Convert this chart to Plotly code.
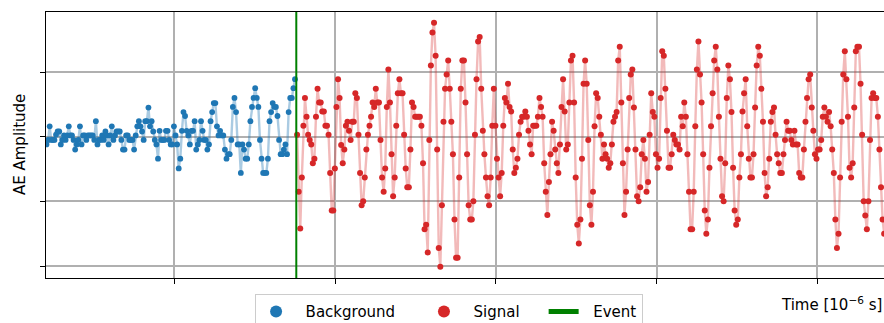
import numpy as np
import plotly.graph_objects as go

# ---------------- data ----------------
bg_amplitude = [
    -0.12, -0.05, 0.16, -0.05, -0.05, -0.05, 0.03, 0.08, 0.08, -0.12,
    -0.05, 0.02, -0.05, 0.02, 0.16, 0.02, 0.02, -0.05, -0.20, -0.12,
    -0.05, 0.16, -0.12, 0.02, 0.02, -0.05, 0.02, 0.02, 0.02, 0.02,
    -0.05, 0.24, -0.12, -0.05, -0.05, 0.02, -0.05, 0.08, 0.02, -0.12,
    0.02, 0.16, -0.05, 0.02, 0.08, 0.08, 0.08, -0.05, -0.20, -0.20,
    0.02, 0.02, -0.05, -0.05, -0.05, -0.20, 0.02, 0.16, 0.24, 0.16,
    0.08, -0.05, 0.24, 0.24, 0.45, 0.16, 0.24, 0.08,
    -0.05, -0.12, -0.34, 0.09, -0.05, -0.05, -0.05, 0.09, 0.09, -0.05,
    -0.12, -0.12, 0.16, 0.02, -0.12, -0.49, -0.34, 0.09, 0.38, 0.32,
    0.09, 0.02, -0.12, 0.09, 0.09, 0.24, -0.20, -0.12, -0.05, 0.24,
    0.09, -0.05, -0.05, -0.20, -0.12, 0.24, 0.38, 0.52, 0.52, 0.16,
    0.02, 0.09, 0.02, 0.02, -0.20, -0.34, -0.27, -0.27, -0.05, 0.46,
    0.60, 0.38, -0.12, -0.12, -0.56, -0.12, -0.20, -0.34, -0.34, -0.12,
    0.24, 0.46, 0.60, 0.75, 0.60, 0.46, -0.05, -0.34, -0.56, -0.56,
    -0.56, -0.34, 0.24, 0.38, 0.52, 0.46, 0.46, 0.32, -0.05, -0.27,
    -0.27, -0.20, -0.12, -0.27, 0.38, 0.60, 0.60, 0.75, 0.89,
]

sig_amplitude = [
    0.03, -0.85, -1.42, -0.63, 0.17, 0.60, 0.31, 0.03, -0.05, -0.12,
    -0.41, -0.34, 0.31, 0.74, 0.53, 0.53, 0.39, 0.39, 0.17, 0.17,
    0.03, -0.56, -1.14, -1.14, -0.49, 0.46, 0.89, 0.60, -0.13, -0.41,
    -0.20, 0.17, 0.23, 0.09, -0.05, 0.23, 0.23, 0.67, 0.60, 0.03,
    -0.56, -1.06, -1.00, -0.63, -0.20, 0.03, 0.17, 0.31, 0.53, 0.46,
    0.74, 0.53, 0.53, -0.05, -0.63, -0.85, -0.49, 0.46, 1.04, 0.53,
    -0.27, -0.92, -0.63, 0.17, 0.67, 0.89, 0.67, 0.67, 0.03, -0.49,
    -0.78, -0.78, -0.20, 0.53, 0.46, 0.31, 0.31, 0.31, 0.31, 0.17,
    -0.41, -1.43, -1.36, -1.79, -0.05, 1.10, 1.61, 1.76, 1.25, -0.20,
    -1.72, -2.01, -1.06, 0.23, 0.74,
    0.96, 1.18, 0.74, 0.23, -0.27, -1.28, -1.87, -1.87, -0.63, 0.74,
    1.18, 1.18, 0.53, -0.27, -1.06, -1.28, -1.28, -1.00, 0.03, 0.89,
    1.47, 1.54, 0.74, 0.09, -0.27, -0.63, -0.92, -1.06, -0.63, 0.17,
    0.74, 0.17, -0.34, -0.63, -0.92, -0.56, 0.17, 0.60, 0.53, 0.82,
    0.46, 0.39, -0.20, -0.56, -0.48, -0.34, 0.03, 0.23, 0.31, 0.31,
    0.39, 0.31, 0.09, -0.12, -0.27, 0.17, 0.17, 0.17, 0.31, 0.60,
    0.46, 0.31, -0.41, -0.85, -1.21, -0.70, -0.27, 0.23, 0.09, -0.20,
    -0.41, -0.56, -0.12, 0.46, 0.89, 0.39, -0.20, -0.12, 0.53, 1.18,
    1.25, 0.53, -0.63, -1.36, -1.65, -1.28, -0.34, 0.82, 1.18,
    0.82, -0.05, -1.06, -1.36, -0.85, 0.16, 0.67, 0.60, 0.31, 0.03,
    -0.34, -0.12, -0.27, -0.34, -0.48, -0.41, -0.12, 0.23, 0.31, 0.38,
    1.18, 1.39, 0.53, -0.41, -1.21, -0.85, -0.20, 0.60, 0.96, 1.04,
    0.45, -0.20, -0.92, -1.00, -0.78, -0.27, -0.05, -0.34, -0.85, -0.70,
    0.03, 0.67, 0.38, 0.31, -0.27, -0.48, -0.34, 0.60, 1.32, 1.25,
    0.74, 0.09, -0.48, -0.48, -0.27, 0.03, -0.05, -0.12, -0.12, -0.20,
    0.31, 0.16, 0.53, 0.31, -0.27, -0.85, -1.43, -1.43, -0.85, 0.16,
    1.04, 1.47, 0.96, 0.53, -0.27, -1.14, -1.50, -1.28, -0.48, 0.16,
    0.67, 1.18, 1.39, 1.04, 0.31, -0.34, -0.92, -1.00, -0.41, 0.60,
    1.10, 0.89, 0.38,
    -0.48, -1.14, -1.36, -1.28, -0.63, -0.27, 0.39, 0.67, 0.89, 0.16,
    -0.34, -0.63, -0.63, -0.27, 0.45, 1.10, 1.39, 1.25, 0.74, 0.23,
    -0.56, -0.92, -0.78, -0.34, 0.23, 0.38, 0.45, 0.03, -0.27, -0.41,
    -0.56, -0.56, -0.27, -0.05, 0.23, 0.09, 0.09, -0.05, -0.12, 0.09,
    -0.12, -0.12, -0.56, -0.63, -0.63, -0.20, 0.23, 0.60, 0.89, 0.96,
    0.45, 0.09, -0.27, -0.34, -0.20, -0.20, -0.05, 0.31, 0.45, 0.31,
    0.23, 0.38, 0.16, -0.20, -0.56, -1.28, -1.72, -1.50, -0.63, 0.23,
    0.96, 1.32, 0.89, 0.31, -0.48, -0.63, -0.41, 0.45, 1.32, 1.39,
    1.39, 0.82, 0.03, -1.00, -1.22, -1.43, -1.00, -0.05, 0.60, 0.67,
    0.60, 0.60, 0.31, -0.20, -0.78, -1.28, -1.50,
]

bg_start, bg_end = -79.5, 75.1        # background window [1e-6 s]
event_time = 75.9                     # event onset [1e-6 s]
sig_start, sig_end = 76.4, 441.6      # signal window [1e-6 s]

series_names = ["Background", "Signal", "Event"]
x_ticks = [0, 100, 200, 300, 400]
y_ticks = [-2, -1, 0, 1]
x_range = [-79.8, 441.5]
y_range = [-2.185, 1.928]

bg_time = np.linspace(bg_start, bg_end, len(bg_amplitude))
sig_time = np.linspace(sig_start, sig_end, len(sig_amplitude))

BLUE = "#1f77b4"
RED = "#d62728"
FONT = "DejaVu Sans"
FS = 15
NB = "\u00a0"


def legend_label(name, lead, trail):
    return NB * lead + name + NB * trail


fig = go.Figure()
fig.add_trace(go.Scatter(x=bg_time, y=bg_amplitude, mode="lines",
                         line=dict(color="rgba(31,119,180,0.38)", width=2.4),
                         showlegend=False, hoverinfo="skip"))
fig.add_trace(go.Scatter(x=bg_time, y=bg_amplitude, mode="markers",
                         marker=dict(color=BLUE, size=5.8),
                         name=legend_label(series_names[0], 2, 5)))
fig.add_trace(go.Scatter(x=sig_time, y=sig_amplitude, mode="lines",
                         line=dict(color="rgba(214,39,40,0.32)", width=2.4),
                         showlegend=False, hoverinfo="skip"))
fig.add_trace(go.Scatter(x=sig_time, y=sig_amplitude, mode="markers",
                         marker=dict(color=RED, size=6),
                         name=legend_label(series_names[1], 2, 4)))
fig.add_trace(go.Scatter(x=[event_time, event_time], y=y_range, mode="lines",
                         line=dict(color="green", width=2),
                         name=legend_label(series_names[2], 2, 0)))

fig.update_layout(
    width=884, height=323,
    margin=dict(l=46, r=0, t=12, b=45, autoexpand=False),
    paper_bgcolor="white", plot_bgcolor="white",
    font=dict(family=FONT, size=FS, color="black"),
    showlegend=True,
    legend=dict(orientation="h", x=0.481, xanchor="center", y=-0.061, yanchor="top",
                bordercolor="#cccccc", borderwidth=1, bgcolor="white",
                font=dict(family=FONT, size=FS), itemsizing="constant"),
    annotations=[
        dict(text="Time [10<sup>\u22126</sup> s]", xref="paper", yref="paper",
             x=1.0, y=-0.096, xanchor="right", yanchor="middle", showarrow=False,
             font=dict(family=FONT, size=FS)),
        dict(text="AE Amplitude", xref="paper", yref="paper", x=-0.031, y=0.5,
             xanchor="center", yanchor="middle", textangle=-90, showarrow=False,
             font=dict(family=FONT, size=FS)),
    ],
)
fig.update_xaxes(range=x_range, tickvals=x_ticks, showticklabels=False,
                 ticks="outside", ticklen=5, tickwidth=1.3, tickcolor="black",
                 showline=True, linecolor="black", linewidth=1.4, mirror=True,
                 showgrid=True, gridcolor="#b0b0b0", gridwidth=1.5, zeroline=False)
fig.update_yaxes(range=y_range, tickvals=y_ticks, showticklabels=False,
                 ticks="outside", ticklen=5, tickwidth=1.3, tickcolor="black",
                 showline=True, linecolor="black", linewidth=1.4, mirror=False,
                 showgrid=True, gridcolor="#b0b0b0", gridwidth=1.5, zeroline=False)

fig.write_html("out.html")
